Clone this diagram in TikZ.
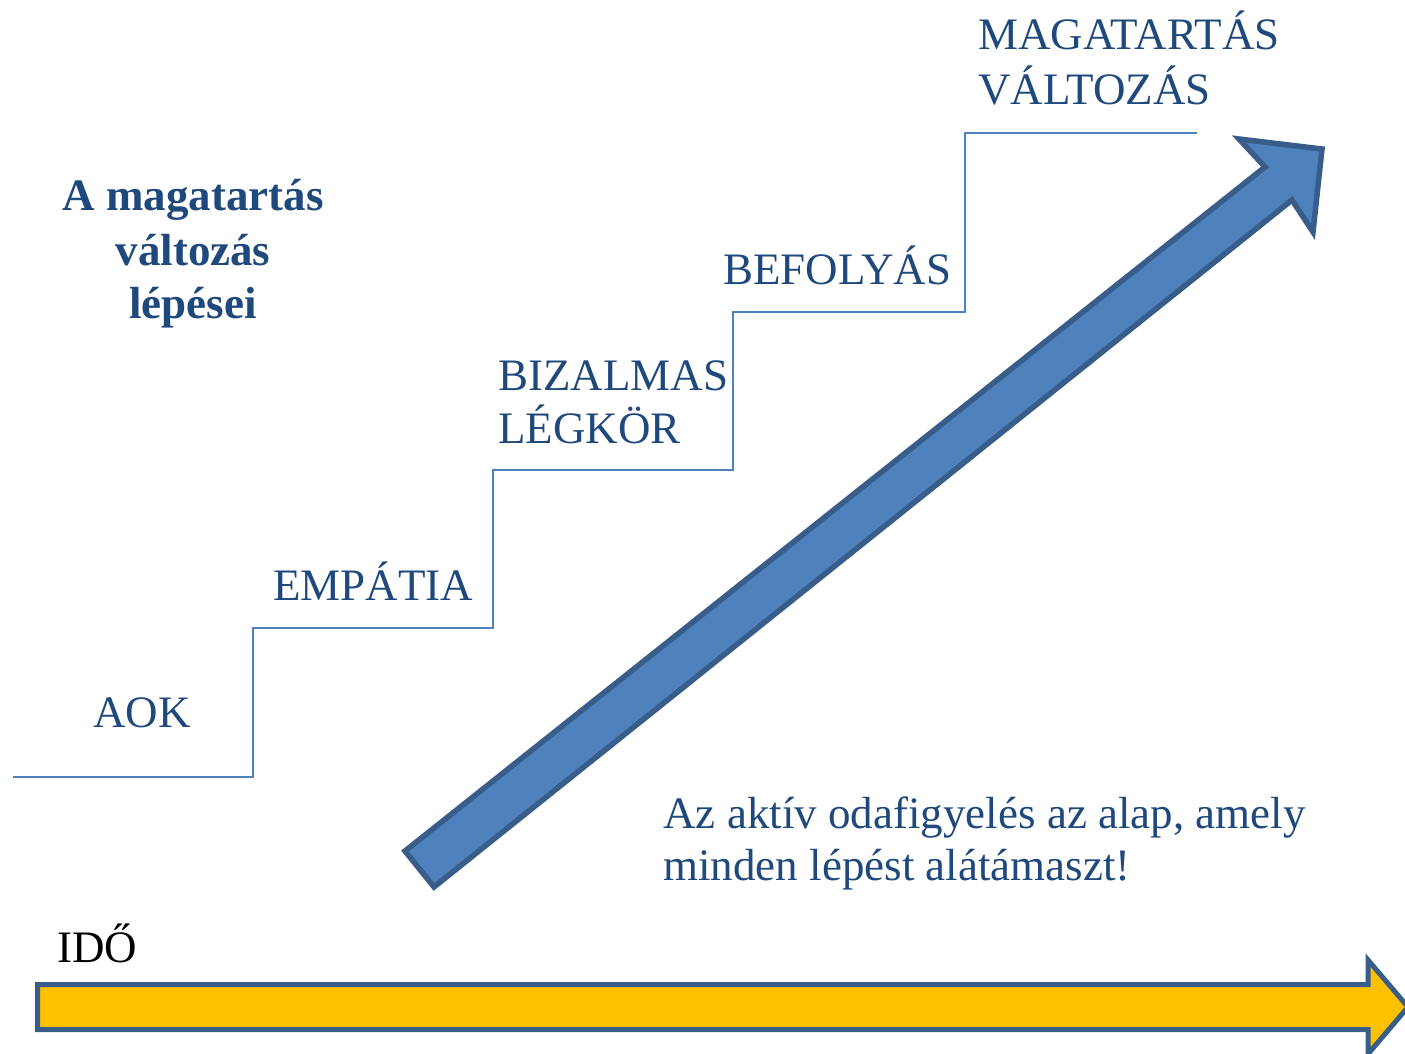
\documentclass[tikz,border=0pt]{standalone}
\usepackage{fontspec}
\setmainfont{Liberation Serif}
\usepackage{xcolor}
\usepackage{tikz}

\definecolor{textblue}{RGB}{31,73,125}
\definecolor{stairblue}{RGB}{79,129,189}
\definecolor{edgeblue}{RGB}{56,93,138}
\definecolor{timeyellow}{RGB}{255,192,0}

\tikzset{
    lbl/.style={anchor=base west, inner sep=0pt, text=textblue, font=\fontsize{22.5}{26}\selectfont},
    titlelbl/.style={anchor=base, inner sep=0pt, text=textblue, font=\fontsize{22.5}{26}\selectfont\bfseries},
}

\begin{document}
\begin{tikzpicture}[x=0.5pt, y=-0.5pt]
        \useasboundingbox (0,0) rectangle (1405,1054);

        \draw[stairblue, line width=1pt] (13,777) -- (253,777) -- (253,628) -- (493,628) -- (493,470)
            -- (733,470) -- (733,312) -- (965,312) -- (965,133) -- (1197,133);

        \node[lbl] (aok) at (93,727) {AOK};
        \node[lbl] (empatia) at (273,600) {EMPÁTIA};
        \node[lbl] (bizalmas) at (498,390) {BIZALMAS};
        \node[lbl] (legkor) at (498,444) {LÉGKÖR};
        \node[lbl] (befolyas) at (723,285) {BEFOLYÁS};
        \node[lbl] (magatartas) at (978,50) {MAGATARTÁS};
        \node[lbl] (valtozas) at (978,105) {VÁLTOZÁS};

        \node[titlelbl] (title1) at (193,211) {A magatartás};
        \node[titlelbl] (title2) at (193,265) {változás};
        \node[titlelbl] (title3) at (193,319) {lépései};

        \draw[fill=stairblue, draw=edgeblue, line width=2.75pt] (405,851) -- (1265,167) -- (1239,139) -- (1322,149)
            -- (1313,232) -- (1292,200) -- (434,887) -- cycle;

        \node[lbl] (note1) at (663,828) {Az aktív odafigyelés az alap, amely};
        \node[lbl] (note2) at (663,880) {minden lépést alátámaszt!};

        \node[lbl, text=black] (ido) at (57,962) {IDŐ};

        \draw[fill=timeyellow, draw=edgeblue, line width=2.5pt] (37.5,984.5) -- (1368,984.5) -- (1368,960)
            -- (1408,1007) -- (1368,1054) -- (1368,1029.5) -- (37.5,1029.5) -- cycle;

    \end{tikzpicture}
\end{document}
